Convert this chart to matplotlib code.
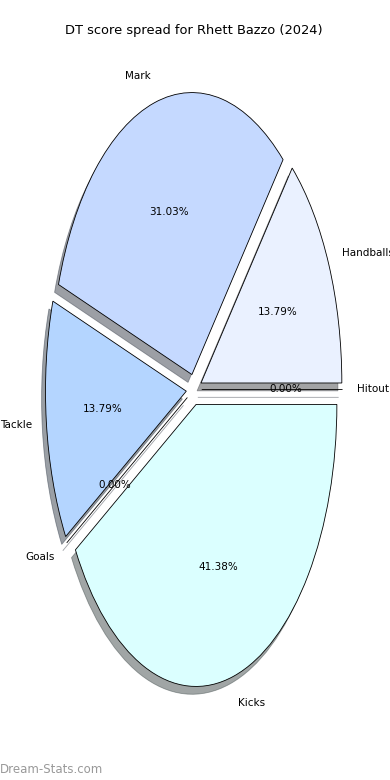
# DT score spread pie for one player

import matplotlib
matplotlib.use('Agg')
import matplotlib.pyplot as plt

player = 'Rhett Bazzo'
season = 2024
labels = ['Handballs', 'Mark', 'Tackle', 'Goals', 'Kicks', 'Hitout']
scores = [4, 9, 4, 0, 12, 0]
colors = ['#eaf1ff', '#c5d9ff', '#b4d5ff', '#c0dcff', '#dbffff', '#d0e4ff']
explode = [0.055] * len(scores)

fig = plt.figure(figsize=(3.9, 7.8), dpi=100)
ax = fig.add_axes([18 / 390, 38 / 780, 352 / 390, 705 / 780])

ax.pie(scores, labels=labels, colors=colors, explode=explode,
       autopct='%1.2f%%', shadow=True, startangle=0, counterclock=True,
       wedgeprops={'edgecolor': 'black', 'linewidth': 0.6},
       textprops={'fontsize': 7.5})
ax.set_aspect('auto')
ax.set_title(f'DT score spread for {player} ({season})', fontsize=9.4, pad=1.5)

fig.text(0.0, 0.005, 'Dream-Stats.com', fontsize=8.5, color='#999999',
         ha='left', va='bottom')

plt.savefig('out.png', dpi=100)
plt.close()
